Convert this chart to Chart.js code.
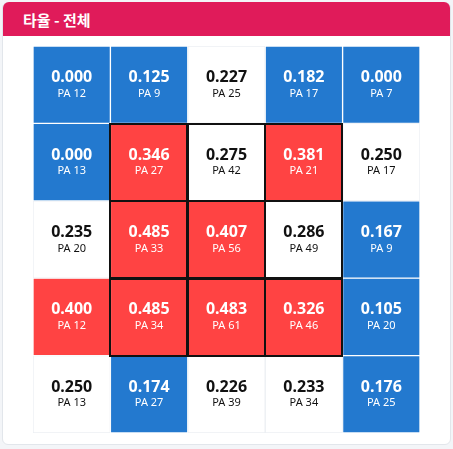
<!DOCTYPE html>
<html>
<head>
<meta charset="utf-8">
<script src="https://cdn.jsdelivr.net/npm/chart.js@4"></script>
<style>
  body { margin: 0; background: #f3f5f8; font-family: "Noto Sans", "Noto Sans CJK KR", sans-serif; }
  #card { position: absolute; left: 2px; top: 2px; width: 447px; height: 441px; background: #fff; border: 1px solid #e2e6eb; border-radius: 6px; }
  #title { position: absolute; left: 3px; top: 2px; width: 447px; height: 34px; background: #e01b5a; border-radius: 6px 6px 0 0;
    color: #fff; font: bold 15px "Noto Sans CJK KR", "Noto Sans", sans-serif; line-height: 36px; padding-left: 20px; box-sizing: border-box; }
  #heat { position: absolute; left: 0; top: 0; }
</style>
</head>
<body>
<div id="card"></div>
<div id="title">타율 - 전체</div>
<canvas id="heat" width="453" height="449"></canvas>
<script>
// zone columns (left -> right) and rows (top -> bottom)
const zoneCols = ['1', '2', '3', '4', '5'];
const zoneRows = ['1', '2', '3', '4', '5'];

// batting average per zone
const avgByRow = [
  [0.000, 0.125, 0.227, 0.182, 0.000],
  [0.000, 0.346, 0.275, 0.381, 0.250],
  [0.235, 0.485, 0.407, 0.286, 0.167],
  [0.400, 0.485, 0.483, 0.326, 0.105],
  [0.250, 0.174, 0.226, 0.233, 0.176]
];

// plate appearances per zone
const paByRow = [
  [12, 9, 25, 17, 7],
  [13, 27, 42, 21, 17],
  [20, 33, 56, 49, 9],
  [12, 34, 61, 46, 20],
  [13, 27, 39, 34, 25]
];

const HOT = '#ff4343';
const COLD = '#2379cf';

function cellColor(avg) {
  if (avg >= 0.3) return HOT;
  if (avg < 0.2) return COLD;
  return '#ffffff';
}

// one stacked dataset per row
const datasets = zoneRows.map((row, r) => ({
  label: 'row ' + row,
  data: zoneCols.map(() => 1),
  backgroundColor: avgByRow[r].map(cellColor),
  borderColor: avgByRow[r].map(v => cellColor(v) === '#ffffff' ? '#eceff3' : 'rgba(255,255,255,0.55)'),
  borderWidth: 1,
  borderSkipped: false,
  barPercentage: 1,
  categoryPercentage: 1
}));

// text in each cell + strike zone outline
const cellText = {
  id: 'cellText',
  afterDatasetsDraw(chart) {
    const ctx = chart.ctx;

    // strike zone: inner 3x3
    ctx.save();
    ctx.strokeStyle = '#111';
    ctx.lineWidth = 2;
    for (let r = 1; r <= 3; r++) {
      for (let c = 1; c <= 3; c++) {
        const bar = chart.getDatasetMeta(r).data[c];
        const left = bar.x - bar.width / 2;
        ctx.strokeRect(Math.round(left), Math.round(bar.y), Math.round(bar.width), Math.round(bar.base - bar.y));
      }
    }
    ctx.restore();

    ctx.save();
    ctx.textAlign = 'center';
    ctx.textBaseline = 'middle';
    zoneRows.forEach((row, r) => {
      chart.getDatasetMeta(r).data.forEach((bar, c) => {
        const avg = avgByRow[r][c];
        const cx = bar.x;
        const cy = (bar.y + bar.base) / 2;
        ctx.fillStyle = cellColor(avg) === '#ffffff' ? '#111' : '#fff';
        ctx.font = 'bold 16px "Noto Sans", sans-serif';
        ctx.fillText(avg.toFixed(3), cx, cy - 7);
        ctx.font = '11px "Noto Sans", sans-serif';
        ctx.fillText('PA ' + paByRow[r][c], cx, cy + 9);
      });
    });
    ctx.restore();
  }
};

new Chart(document.getElementById('heat'), {
  type: 'bar',
  data: { labels: zoneCols, datasets },
  options: {
    responsive: false,
    animation: false,
    layout: { padding: { left: 33, right: 33, top: 46, bottom: 16 } },
    plugins: { legend: { display: false }, tooltip: { enabled: false } },
    scales: {
      x: { stacked: true, display: false },
      y: { stacked: true, display: false, min: 0, max: 5, reverse: true }
    }
  },
  plugins: [cellText]
});
</script>
</body>
</html>
